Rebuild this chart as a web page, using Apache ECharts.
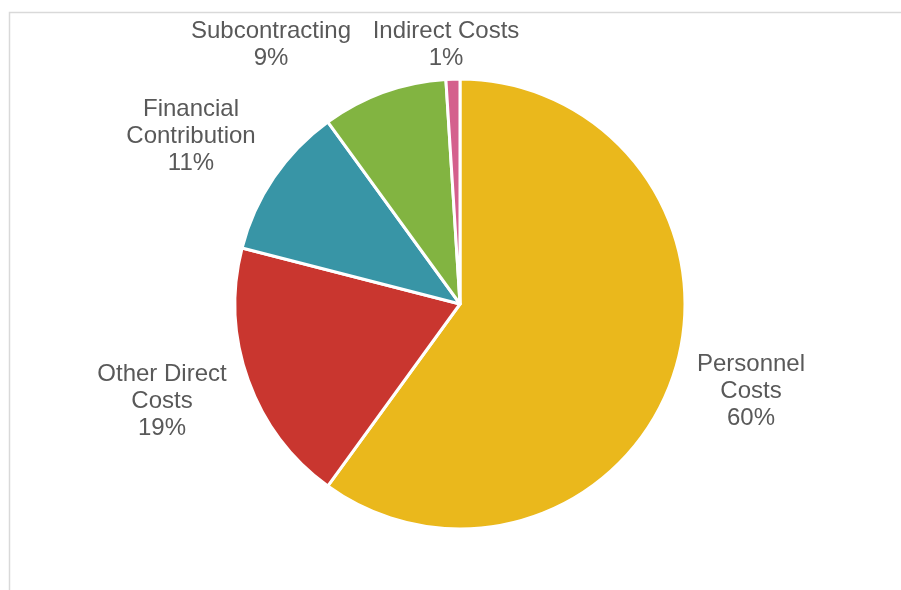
<!DOCTYPE html>
<html>
<head>
<meta charset="utf-8">
<script src="https://cdn.jsdelivr.net/npm/echarts@6/dist/echarts.min.js"></script>
<style>
  html, body { margin: 0; padding: 0; background: #ffffff; }
  #chart { width: 901px; height: 590px; }
</style>
</head>
<body>
<div id="chart"></div>
<script>
// Budget breakdown by cost category (percent of total)
const categories = ['Personnel\nCosts', 'Other Direct\nCosts', 'Financial\nContribution', 'Subcontracting', 'Indirect Costs'];
const shares = [60, 19, 11, 9, 1];
const sliceColors = ['#EAB81C', '#C9362F', '#3895A6', '#82B441', '#D4608D'];
// Label anchor points (pixel centres of each text block)
const labelAnchors = [[751, 391], [162, 401], [191, 136], [271, 45], [446, 45]];

const chart = echarts.init(document.getElementById('chart'), null, { renderer: 'canvas' });

chart.setOption({
  backgroundColor: '#ffffff',
  animation: false,
  graphic: [{
    type: 'rect',
    shape: { x: 9.5, y: 12.5, width: 1000, height: 1000 },
    style: { fill: 'none', stroke: '#d9d9d9', lineWidth: 1.5 },
    silent: true
  }],
  series: [{
    type: 'pie',
    center: [460, 304],
    radius: 225,
    startAngle: 90,
    clockwise: true,
    avoidLabelOverlap: false,
    itemStyle: { borderColor: '#ffffff', borderWidth: 3 },
    label: {
      show: true,
      position: 'outside',
      formatter: function (p) { return p.name + '\n' + p.value + '%'; },
      color: '#595959',
      fontFamily: 'Liberation Sans, Arial, sans-serif',
      fontSize: 24,
      lineHeight: 27,
      align: 'center'
    },
    labelLine: { show: false },
    labelLayout: function (params) {
      const a = labelAnchors[params.dataIndex];
      return { x: a[0], y: a[1], align: 'center', verticalAlign: 'middle' };
    },
    emphasis: { disabled: true },
    data: categories.map(function (name, i) {
      return { name: name, value: shares[i], itemStyle: { color: sliceColors[i] } };
    })
  }]
});
</script>
</body>
</html>
